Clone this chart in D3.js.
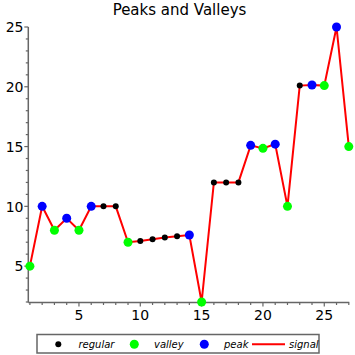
<!DOCTYPE html>
<html><head><meta charset="utf-8">
<script src="https://cdn.jsdelivr.net/npm/d3@7"></script>
<style>body{margin:0;background:#fff}svg{display:block}</style>
</head><body>
<svg id="chart" width="355" height="355"></svg>
<script>
const title = "Peaks and Valleys";
const xs = [1,2,3,4,5,6,7,8,9,10,11,12,13,14,15,16,17,18,19,20,21,22,23,24,25,26,27];
const ys = [5,10,8,9,8,10,10,10,7,7.1,7.25,7.4,7.5,7.6,2,12,12,12,15.1,14.85,15.2,10,20.1,20.15,20.1,25,15];
const kinds = ["valley","peak","valley","peak","valley","peak","regular","regular","valley","regular","regular","regular","regular","peak","valley","regular","regular","regular","peak","valley","peak","valley","regular","peak","valley","peak","valley"];
const xMajorTicks = [5,10,15,20,25];
const yMajorTicks = [5,10,15,20,25];
const legendLabels = ["regular","valley","peak","signal"];
const colors = {regular:"#000000", valley:"#00ff00", peak:"#0000ff", signal:"#ff0000"};
const radii = {regular:3, valley:4.5, peak:4.5};

const svg = d3.select("#chart");
const font = "DejaVu Sans";
const axisColor = "#666";

const x = d3.scaleLinear().domain([1,27]).range([29.9,348.8]);
const y = d3.scaleLinear().domain([2,25]).range([302,27]);
const axX = 28.3, axY = 302.5;

svg.append("text").attr("x",179.5).attr("y",15).attr("text-anchor","middle")
  .attr("font-family",font).attr("font-size",15).attr("fill","#000").text(title);

// axes lines
svg.append("line").attr("x1",axX).attr("x2",axX).attr("y1",y(25)).attr("y2",axY)
  .attr("stroke",axisColor).attr("stroke-width",1.5);
svg.append("line").attr("x1",axX).attr("x2",x(27)+0.5).attr("y1",axY).attr("y2",axY)
  .attr("stroke",axisColor).attr("stroke-width",1.5);

// x ticks
const xAll = d3.range(1,28);
const gx = svg.append("g");
gx.selectAll("line").data(xAll).join("line")
  .attr("x1",d=>x(d)).attr("x2",d=>x(d)).attr("y1",axY)
  .attr("y2",d=>axY + (xMajorTicks.includes(d)?4:2.5))
  .attr("stroke",axisColor).attr("stroke-width",1.2);
gx.selectAll("text").data(xMajorTicks).join("text")
  .attr("x",d=>x(d)).attr("y",319.5).attr("text-anchor","middle")
  .attr("font-family",font).attr("font-size",14).attr("fill","#000").text(d=>d);

// y ticks
const yAll = d3.range(2,26);
const gy = svg.append("g");
gy.selectAll("line").data(yAll).join("line")
  .attr("x1",axX).attr("x2",d=>axX - (yMajorTicks.includes(d)?4:2.5))
  .attr("y1",d=>y(d)).attr("y2",d=>y(d))
  .attr("stroke",axisColor).attr("stroke-width",1.2);
gy.selectAll("text").data(yMajorTicks).join("text")
  .attr("x",23.5).attr("y",d=>y(d)+5.2).attr("text-anchor","end")
  .attr("font-family",font).attr("font-size",14).attr("fill","#000").text(d=>d);

// signal line
const pts = xs.map((v,i)=>({x:v,y:ys[i],k:kinds[i]}));
svg.append("path").datum(pts)
  .attr("d",d3.line().x(d=>x(d.x)).y(d=>y(d.y)))
  .attr("fill","none").attr("stroke",colors.signal).attr("stroke-width",2);

svg.append("g").selectAll("circle").data(pts).join("circle")
  .attr("cx",d=>x(d.x)).attr("cy",d=>y(d.y)).attr("r",d=>radii[d.k])
  .attr("fill",d=>colors[d.k]);

// legend
const lg = svg.append("g");
lg.append("rect").attr("x",37).attr("y",334.5).attr("width",282).attr("height",18.5)
  .attr("fill","#fff").attr("stroke",axisColor).attr("stroke-width",1.5);
const ly = 344.3;
const dotX = [58.3,134.3,204.3];
lg.selectAll("circle").data(legendLabels.slice(0,3)).join("circle")
  .attr("cx",(d,i)=>dotX[i]).attr("cy",ly).attr("r",d=>d==="regular"?3:4.5)
  .attr("fill",d=>colors[d]);
lg.append("line").attr("x1",252).attr("x2",285).attr("y1",ly).attr("y2",ly)
  .attr("stroke",colors.signal).attr("stroke-width",2);
const textX = [78.5,154,224,289];
lg.selectAll("text").data(legendLabels).join("text")
  .attr("x",(d,i)=>textX[i]).attr("y",ly+3.6)
  .attr("font-family",font).attr("font-style","italic").attr("font-size",10)
  .attr("fill","#000").text(d=>d);
</script>
</body></html>
